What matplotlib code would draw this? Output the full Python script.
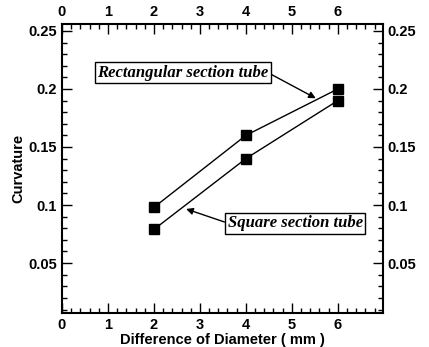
import matplotlib
matplotlib.use('Agg')
import matplotlib.pyplot as plt
from matplotlib.ticker import MultipleLocator

diameter = [2, 4, 6]
rect_curv = [0.098, 0.160, 0.200]
square_curv = [0.079, 0.140, 0.190]

plt.rcParams['font.family'] = 'Liberation Sans'
plt.rcParams['font.weight'] = 'bold'

fig = plt.figure(figsize=(4.29, 3.47), dpi=100)
ax = fig.add_axes([0.1445, 0.098, 0.748, 0.833])

ax.plot(diameter, rect_curv, color='black', lw=1, marker='s', ms=6.5)
ax.plot(diameter, square_curv, color='black', lw=1, marker='s', ms=6.5)

ax.set_xlim(0, 6.98)
ax.set_ylim(0.007, 0.256)
ax.xaxis.set_major_locator(MultipleLocator(1))
ax.xaxis.set_minor_locator(MultipleLocator(0.2))
ax.yaxis.set_major_locator(MultipleLocator(0.05))
ax.yaxis.set_minor_locator(MultipleLocator(0.01))
ax.yaxis.set_major_formatter(plt.FuncFormatter(lambda v, p: ('%g' % round(v, 3)) if v > 0.001 else ''))

ax.tick_params(which='both', direction='in', top=True, right=True,
               labeltop=True, labelright=True, labelsize=10.5, width=1)
ax.tick_params(which='major', length=7)
ax.tick_params(which='minor', length=3.5)
for s in ax.spines.values():
    s.set_linewidth(1.5)

ax.set_xlabel('Difference of Diameter ( mm )', fontsize=10.5, fontweight='bold', labelpad=1)
ax.set_ylabel('Curvature', fontsize=10.5, fontweight='bold', labelpad=2)

box = dict(boxstyle='square,pad=0.15', fc='white', ec='black', lw=1)
tfont = dict(family='Liberation Serif', style='italic', weight='bold', size=12)
# arrows leave from the side of each label box
ax.annotate('Rectangular section tube', xy=(5.52, 0.192), xytext=(2.63, 0.2138),
            ha='center', va='center', bbox=box, **tfont,
            arrowprops=dict(arrowstyle='-|>', color='black', lw=1, shrinkA=0, shrinkB=0,
                            mutation_scale=10, relpos=(1, 0.5)))
ax.annotate('Square section tube', xy=(2.70, 0.0966), xytext=(5.07, 0.0845),
            ha='center', va='center', bbox=box, **tfont,
            arrowprops=dict(arrowstyle='-|>', color='black', lw=1, shrinkA=0, shrinkB=0,
                            mutation_scale=10, relpos=(0, 0.5)))

fig.savefig('out.png', dpi=100)
